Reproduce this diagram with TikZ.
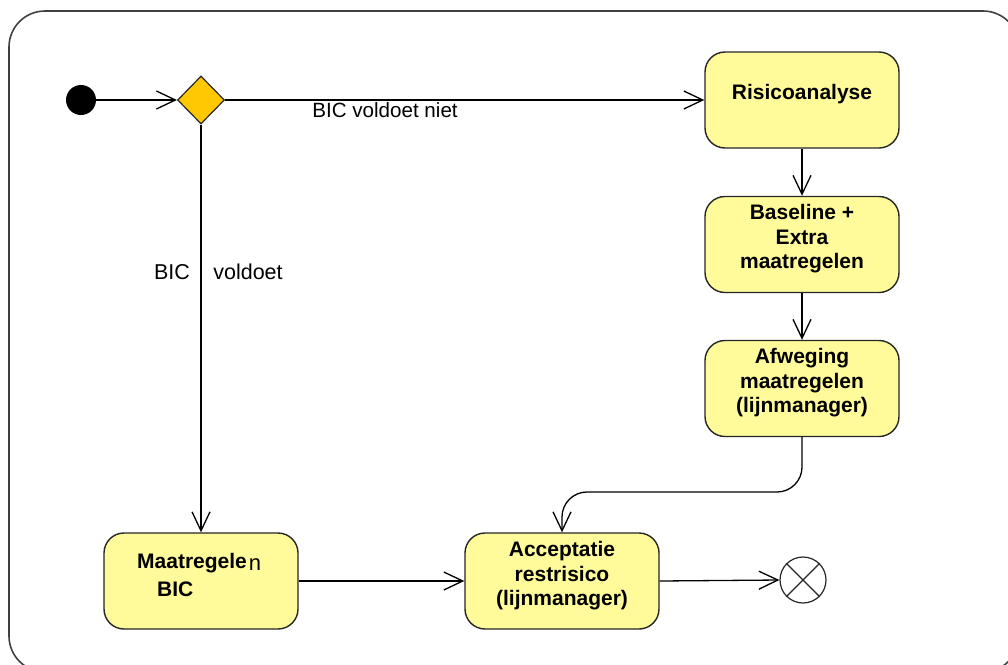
\documentclass[tikz,border=0pt]{standalone}
\usepackage{fontspec}
\setmainfont{Liberation Sans}
\usetikzlibrary{arrows.meta,shapes.geometric}
\definecolor{actfill}{RGB}{255,251,155}
\definecolor{decfill}{RGB}{255,200,0}
\definecolor{framecol}{RGB}{64,64,64}
\tikzset{
  activity/.style={draw=black!85, line width=1.4pt, fill=actfill, rounded corners=20pt,
    minimum width=194pt, minimum height=96pt, inner sep=0pt},
  acttext/.style={font=\fontsize{21}{24.5}\selectfont\bfseries, align=center, inner sep=0pt},
  edgetext/.style={font=\fontsize{20.6}{24}\selectfont, inner sep=0pt},
  flow/.style={line width=1.3pt, -{Straight Barb[length=19pt,width=18pt,line width=1.3pt]}},
}
\begin{document}
\begin{tikzpicture}[x=1pt,y=-1pt]
\useasboundingbox (0,0) rectangle (1008,664);
% surrounding frame
\draw[framecol, line width=1.6pt, rounded corners=36pt] (9,11) rectangle (1019,672);

% start and decision
\node[circle, fill=black, minimum size=30pt, inner sep=0pt] (start) at (81,100) {};
\node[diamond, draw=black!85, line width=1.2pt, fill=decfill, minimum width=47pt, minimum height=48pt, inner sep=0pt] (dec) at (201,100) {};

% activities
\node[activity] (risico) at (802,100) {};
\node[acttext] (risicoT) at (802,94) {Risicoanalyse};
\node[activity] (base) at (802,244.5) {};
\node[acttext] (baseT) at (802,239) {Baseline +\\Extra\\maatregelen};
\node[activity] (afweg) at (802,388.5) {};
\node[acttext] (afwegT) at (802,383) {Afweging\\maatregelen\\(lijnmanager)};
\node[activity] (accept) at (562,581) {};
\node[acttext] (acceptT) at (562,576) {Acceptatie\\restrisico\\(lijnmanager)};
\node[activity] (maatbic) at (201,581) {};
\node[acttext, anchor=west] (maatT) at (137,563) {Maatregele\kern2pt\raisebox{-2pt}{\fontsize{22}{22}\selectfont\mdseries n}};
\node[acttext, anchor=west] (bicT) at (157,589) {BIC};

% final node
\node[circle, draw=black!85, line width=1.2pt, fill=white, minimum size=46pt, inner sep=0pt] (final) at (803,580) {};
\draw[black!85, line width=1.2pt] (final.north west) -- (final.south east)
  (final.north east) -- (final.south west);

% flows
\draw[flow] (start) -- (dec.west);
\draw[flow] (dec.east) -- (risico.west);
\node[edgetext] (lblNiet) at (385,110) {BIC voldoet niet};
\draw[flow] (dec.south) -- (maatbic.north);
\node[edgetext, font=\fontsize{21.5}{24}\selectfont] (lblBic) at (172,272) {BIC};
\node[edgetext, font=\fontsize{21.5}{24}\selectfont] (lblVoldoet) at (248,272) {voldoet};
\draw[flow] (risico.south) -- (base.north);
\draw[flow] (base.south) -- (afweg.north);
\coordinate (bend) at (562,492);
\draw[flow, rounded corners=25pt] (afweg.south) |- (bend) -- (accept.north);
\draw[flow] (maatbic.east) -- (accept.west);
\draw[flow] (accept.east) -- (final.west);
\end{tikzpicture}
\end{document}
